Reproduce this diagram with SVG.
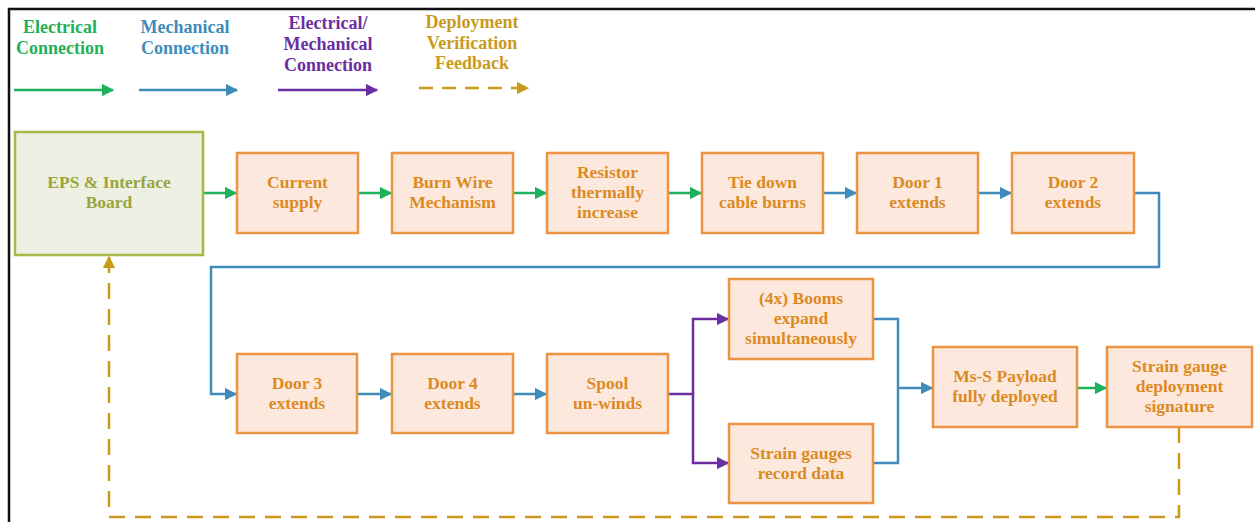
<svg xmlns="http://www.w3.org/2000/svg" width="1255" height="522" viewBox="0 0 1255 522">
<defs>
<style>
.box{fill:#fde8de;stroke:#ec9442;stroke-width:2.5}
.eps{fill:#eef0e3;stroke:#a5b848;stroke-width:2.5}
.t{font-family:"Liberation Serif","DejaVu Serif",serif;font-weight:bold;font-size:17.5px;fill:#dc8a22;text-anchor:middle}
.te{fill:#9aa53a}
.lg{font-family:"Liberation Serif","DejaVu Serif",serif;font-weight:bold;font-size:18px;text-anchor:middle}
.c{fill:none;stroke-width:2.5}
.g{stroke:#1eb05a}
.b{stroke:#3f8cba}
.p{stroke:#6a2ea0}
.y{stroke:#c99a1c;stroke-dasharray:16 10}
</style>
<marker id="ag" viewBox="0 0 10 10" refX="9" refY="5" markerWidth="5" markerHeight="5" orient="auto" markerUnits="strokeWidth"><path d="M0,0 L10,5 L0,10 z" fill="#1eb05a"/></marker>
<marker id="ab" viewBox="0 0 10 10" refX="9" refY="5" markerWidth="5" markerHeight="5" orient="auto" markerUnits="strokeWidth"><path d="M0,0 L10,5 L0,10 z" fill="#3f8cba"/></marker>
<marker id="ap" viewBox="0 0 10 10" refX="9" refY="5" markerWidth="5" markerHeight="5" orient="auto" markerUnits="strokeWidth"><path d="M0,0 L10,5 L0,10 z" fill="#6a2ea0"/></marker>
<marker id="ay" viewBox="0 0 10 10" refX="9" refY="5" markerWidth="5" markerHeight="5" orient="auto" markerUnits="strokeWidth"><path d="M0,0 L10,5 L0,10 z" fill="#c99a1c"/></marker>
</defs>
<rect width="1255" height="522" fill="#fff"/>
<path d="M9,522 V9 H1255" fill="none" stroke="#111" stroke-width="2.5"/>
<g id="legend">
<text class="lg" fill="#1eb05a"><tspan x="60" y="33">Electrical</tspan><tspan x="60" y="54">Connection</tspan></text>
<text class="lg" fill="#3f8cba"><tspan x="185" y="33">Mechanical</tspan><tspan x="185" y="54">Connection</tspan></text>
<text class="lg" fill="#6a2ea0"><tspan x="328" y="29">Electrical/</tspan><tspan x="328" y="50">Mechanical</tspan><tspan x="328" y="71">Connection</tspan></text>
<text class="lg" fill="#c99a1c"><tspan x="472" y="28">Deployment</tspan><tspan x="472" y="49">Verification</tspan><tspan x="472" y="69">Feedback</tspan></text>
<path class="c g" d="M14,90 H113" marker-end="url(#ag)"/>
<path class="c b" d="M139,90 H237" marker-end="url(#ab)"/>
<path class="c p" d="M278,90 H377" marker-end="url(#ap)"/>
<path class="c y" style="stroke-dasharray:14 9" d="M419,88 H528" marker-end="url(#ay)"/>
</g>
<g id="connectors">
<path class="c g" d="M203,193 H236" marker-end="url(#ag)"/>
<path class="c g" d="M358,193 H391" marker-end="url(#ag)"/>
<path class="c g" d="M513,193 H546" marker-end="url(#ag)"/>
<path class="c g" d="M668,193 H701" marker-end="url(#ag)"/>
<path class="c b" d="M823,193 H856" marker-end="url(#ab)"/>
<path class="c b" d="M978,193 H1011" marker-end="url(#ab)"/>
<path class="c b" d="M1134,193 H1159 V267 H211 V394 H236" marker-end="url(#ab)"/>
<path class="c b" d="M357,394 H391" marker-end="url(#ab)"/>
<path class="c b" d="M513,394 H546" marker-end="url(#ab)"/>
<path class="c p" d="M668,394 H693 V319 H728" marker-end="url(#ap)"/>
<path class="c p" d="M693,394 V463 H728" marker-end="url(#ap)"/>
<path class="c b" d="M873,319 H898 V463 H873"/>
<path class="c b" d="M898,388 H932" marker-end="url(#ab)"/>
<path class="c g" d="M1077,388 H1106" marker-end="url(#ag)"/>
<path class="c y" d="M1179,427 V517 H109 V257" marker-end="url(#ay)"/>
</g>
<g id="eps"><rect class="eps" x="15" y="132" width="188" height="123"/><text class="t te"><tspan x="109" y="188">EPS &amp; Interface</tspan><tspan x="109" y="208">Board</tspan></text></g>
<g id="current"><rect class="box" x="237" y="153" width="121" height="80"/><text class="t"><tspan x="297.5" y="188">Current</tspan><tspan x="297.5" y="208">supply</tspan></text></g>
<g id="burn"><rect class="box" x="392" y="153" width="121" height="80"/><text class="t"><tspan x="452.5" y="188">Burn Wire</tspan><tspan x="452.5" y="208">Mechanism</tspan></text></g>
<g id="resistor"><rect class="box" x="547" y="153" width="121" height="80"/><text class="t"><tspan x="607.5" y="178">Resistor</tspan><tspan x="607.5" y="198">thermally</tspan><tspan x="607.5" y="218">increase</tspan></text></g>
<g id="tiedown"><rect class="box" x="702" y="153" width="121" height="80"/><text class="t"><tspan x="762.5" y="188">Tie down</tspan><tspan x="762.5" y="208">cable burns</tspan></text></g>
<g id="door1"><rect class="box" x="857" y="153" width="121" height="80"/><text class="t"><tspan x="917.5" y="188">Door 1</tspan><tspan x="917.5" y="208">extends</tspan></text></g>
<g id="door2"><rect class="box" x="1012" y="153" width="122" height="80"/><text class="t"><tspan x="1073" y="188">Door 2</tspan><tspan x="1073" y="208">extends</tspan></text></g>
<g id="door3"><rect class="box" x="237" y="354" width="120" height="79"/><text class="t"><tspan x="297" y="389">Door 3</tspan><tspan x="297" y="409">extends</tspan></text></g>
<g id="door4"><rect class="box" x="392" y="354" width="121" height="79"/><text class="t"><tspan x="452.5" y="389">Door 4</tspan><tspan x="452.5" y="409">extends</tspan></text></g>
<g id="spool"><rect class="box" x="547" y="354" width="121" height="79"/><text class="t"><tspan x="607.5" y="389">Spool</tspan><tspan x="607.5" y="409">un-winds</tspan></text></g>
<g id="booms"><rect class="box" x="729" y="279" width="144" height="80"/><text class="t"><tspan x="801" y="304">(4x) Booms</tspan><tspan x="801" y="324">expand</tspan><tspan x="801" y="344">simultaneously</tspan></text></g>
<g id="straingauges"><rect class="box" x="729" y="424" width="144" height="79"/><text class="t"><tspan x="801" y="459">Strain gauges</tspan><tspan x="801" y="479">record data</tspan></text></g>
<g id="payload"><rect class="box" x="933" y="347" width="144" height="80"/><text class="t"><tspan x="1005" y="382">Ms-S Payload</tspan><tspan x="1005" y="402">fully deployed</tspan></text></g>
<g id="signature"><rect class="box" x="1107" y="347" width="145" height="80"/><text class="t"><tspan x="1179.5" y="372">Strain gauge</tspan><tspan x="1179.5" y="392">deployment</tspan><tspan x="1179.5" y="412">signature</tspan></text></g>
</svg>
